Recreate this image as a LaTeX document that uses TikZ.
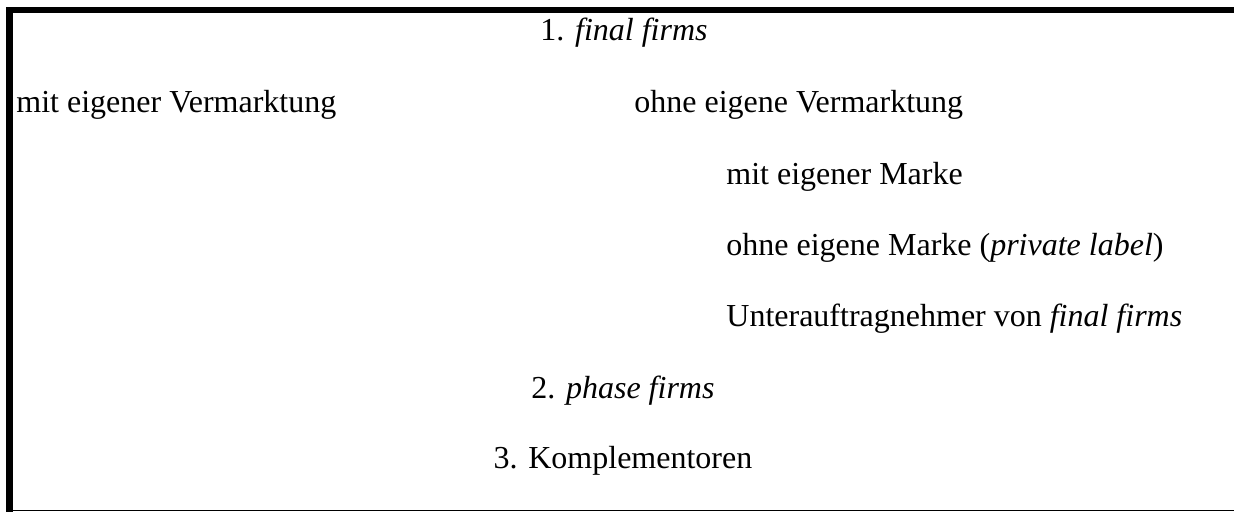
\documentclass[tikz,border=0pt]{standalone}
\usepackage{fontspec}
\setmainfont{Liberation Serif}
\begin{document}
\begin{tikzpicture}[x=0.5pt,y=-0.5pt,
  txt/.style={inner sep=0pt, font=\fontsize{16}{19}\selectfont}]
\useasboundingbox (0,0) rectangle (1234,512);
\fill[white] (0,0) rectangle (1234,512);
% frame (top thick, left thick, bottom thin, no right side)
\fill[black] (6,7.3) rectangle (1234,12.7);
\fill[black] (6.3,7.3) rectangle (12.6,512);
\fill[black] (6.3,509.5) rectangle (1234,511.3);
% texts
\node[txt, anchor=base] (t1) at (624,41) {1. \textit{final firms}};
\node[txt, anchor=base west] (mv) at (16,113) {mit eigener Vermarktung};
\node[txt, anchor=base west] (ov) at (634,113) {ohne eigene Vermarktung};
\node[txt, anchor=base west] (mm) at (726,185) {mit eigener Marke};
\node[txt, anchor=base west] (om) at (726,256) {ohne eigene Marke (\textit{private label})};
\node[txt, anchor=base west] (ua) at (726,327) {Unterauftragnehmer von \textit{final firms}};
\node[txt, anchor=base] (pf) at (623,398) {2. \textit{phase firms}};
\node[txt, anchor=base] (ko) at (623,468) {3. Komplementoren};
\end{tikzpicture}
\end{document}
